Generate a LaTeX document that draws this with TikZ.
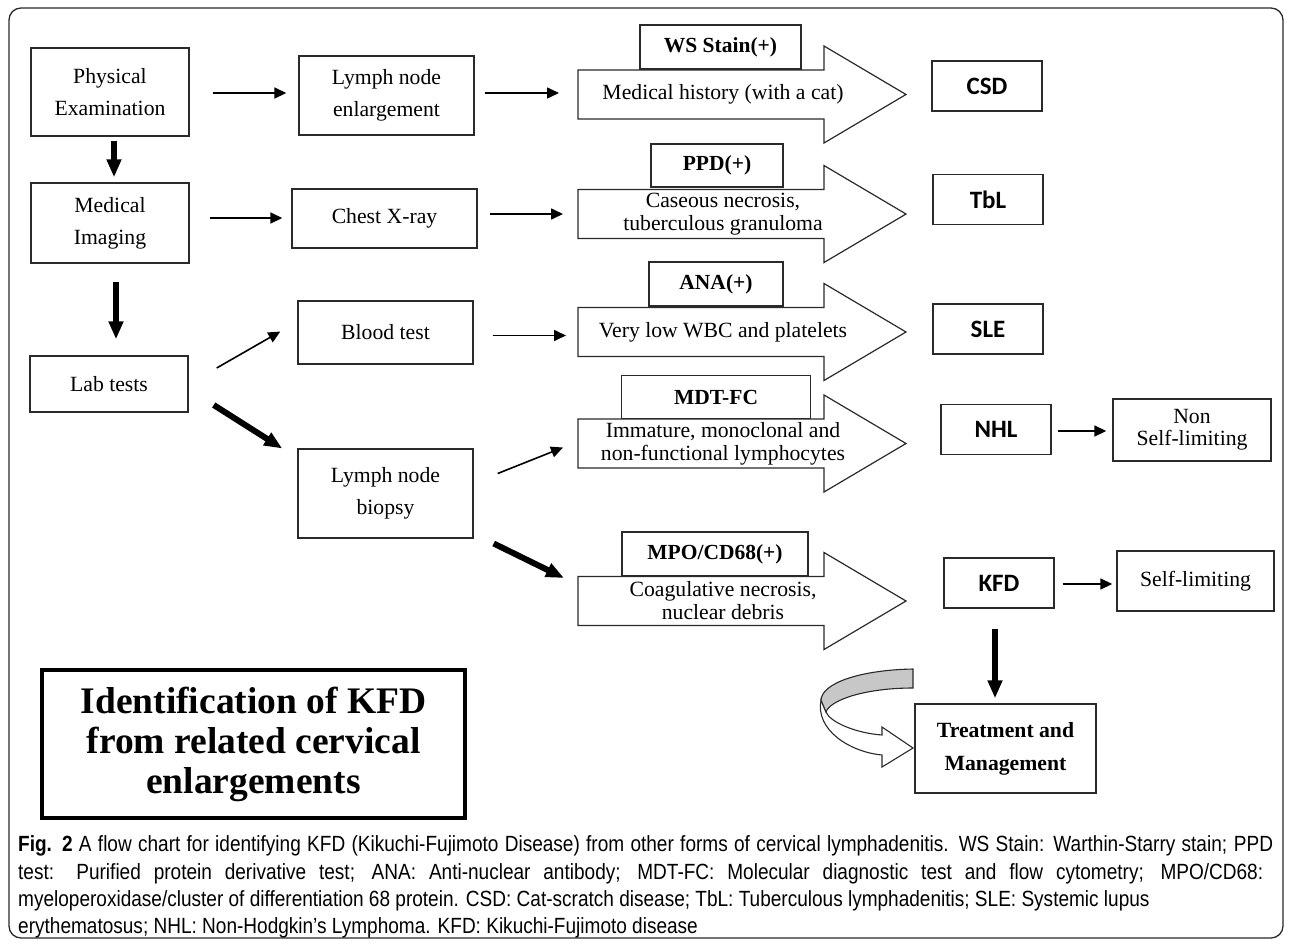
\documentclass[tikz,border=0pt]{standalone}
\usepackage{fontspec}
\setmainfont{Liberation Serif}
\newfontfamily\calib{Carlito}
\newfontfamily\capfont[FakeStretch=0.865]{Liberation Sans}
\usetikzlibrary{arrows.meta,calc}
\definecolor{ln}{HTML}{2a2a2a}
\newcommand\blockarrow[3]{%
  \draw[barrow] (578,#2-24.5) -- (824,#2-24.5) -- (824,#2-48.5) -- (906,#2) -- (824,#2+48.5) -- (824,#2+24.5) -- (578,#2+24.5) -- cycle;
  \coordinate (#1) at (578,#2);
  \coordinate (#1tip) at (906,#2);
  \node[atext] (#1t) at (723,#2) {#3};}
\begin{document}
\begin{tikzpicture}[x=1pt,y=-1pt,
  box/.style={draw=ln, line width=1.4pt, fill=white, inner sep=0pt, align=center, font=\fontsize{21.7}{32}\selectfont},
  lbox/.style={draw=ln, line width=1.4pt, fill=white, inner sep=0pt, align=center, font=\bfseries\fontsize{21.5}{24}\selectfont},
  dbox/.style={draw=ln, line width=1.4pt, fill=white, inner sep=0pt, align=center, minimum width=110, minimum height=50, font=\calib\bfseries\fontsize{25}{27}\selectfont},
  barrow/.style={draw=ln, line width=1.2pt, fill=white, line join=miter},
  atext/.style={align=center, inner sep=0pt, font=\fontsize{21.7}{23}\selectfont},
  tharr/.style={draw=black, line width=1.6pt, -{Triangle[length=12pt,width=11pt]}},
  tkarr/.style={draw=black, line width=6pt, -{Triangle[length=18pt,width=14pt]}},
  captext/.style={anchor=base west, inner sep=0pt, font=\capfont\fontsize{22}{22}\selectfont}
]
\useasboundingbox (0,0) rectangle (1292,945);
\draw[ln, line width=1.3pt, rounded corners=12pt] (9,8) rectangle (1283,938);

% left column
\node[box, minimum width=158, minimum height=88] (pe) at (110,92) {Physical\\Examination};
\node[box, minimum width=158, minimum height=80] (mi) at (110,223) {Medical\\Imaging};
\node[box, minimum width=158, minimum height=56] (lab) at (109,384) {Lab tests};

% middle column
\node[box, minimum width=175, minimum height=79] (lne) at (386.5,95.5) {Lymph node\\enlargement};
\node[box, minimum width=185, minimum height=59] (cxr) at (384.5,218.5) {Chest X-ray};
\node[box, minimum width=175, minimum height=63] (bt) at (385.5,332.5) {Blood test};
\node[box, minimum width=175, minimum height=89] (bio) at (385.5,493.5) {Lymph node\\biopsy};

% block arrows
\blockarrow{a1}{94.5}{Medical history (with a cat)}
\blockarrow{a2}{214}{Caseous necrosis,\\tuberculous granuloma}
\blockarrow{a3}{332}{Very low WBC and platelets}
\blockarrow{a4}{443.5}{Immature, monoclonal and\\non-functional lymphocytes}
\blockarrow{a5}{601}{Coagulative necrosis,\\nuclear debris}

% label boxes
\node[lbox, minimum width=161, minimum height=44] (ws) at (720.5,47) {WS Stain(+)};
\node[lbox, minimum width=132, minimum height=43] (ppd) at (717,165.5) {PPD(+)};
\node[lbox, minimum width=134, minimum height=44] (ana) at (716,284) {ANA(+)};
\node[lbox, minimum width=189, minimum height=43] (mdt) at (716,397) {MDT-FC};
\node[lbox, minimum width=186, minimum height=44] (mpo) at (715,554) {MPO/CD68(+)};

% diagnoses
\node[dbox] (csd) at (987,86) {CSD};
\node[dbox] (tbl) at (988,199.5) {TbL};
\node[dbox] (sle) at (988,329) {SLE};
\node[dbox] (nhl) at (996,429.5) {NHL};
\node[dbox] (kfd) at (999,583) {KFD};
\node[box, minimum width=158, minimum height=62, font=\fontsize{21.7}{22}\selectfont] (non) at (1192,430) {Non\\Self-limiting};
\node[box, minimum width=157, minimum height=60] (self) at (1195.5,581) {Self-limiting};
\node[box, minimum width=181, minimum height=89, font=\bfseries\fontsize{21.7}{33}\selectfont] (tm) at (1005.5,748.5) {Treatment and\\Management};

% title
\node[draw=black, line width=3.5pt, minimum width=423, minimum height=148, inner sep=0pt, align=center, font=\bfseries\fontsize{37.5}{40}\selectfont] (title) at (253.5,744) {Identification of KFD\\from related cervical\\enlargements};

% connectors
\draw[tharr, shorten <=23pt, shorten >=12pt] ($(pe.east)+(0,1)$) -- ($(pe.east -| lne.west)+(0,1)$);
\draw[tharr, shorten <=10pt, shorten >=19pt] ($(lne.east)+(0,-2.5)$) -- ($(lne.east -| a1)+(0,-2.5)$);
\draw[tharr, shorten <=20pt, shorten >=9pt] ($(mi.east)+(0,-5)$) -- ($(mi.east -| cxr.west)+(0,-5)$);
\draw[tharr, shorten <=12pt, shorten >=15pt] ($(cxr.east)+(0,-4.5)$) -- ($(cxr.east -| a2)+(0,-4.5)$);
\draw[tharr] ($(lab.east)+(28,-16)$) -- ($(bt.west)+(-17,-1)$);
\draw[tharr, shorten <=19pt, shorten >=12pt] ($(bt.east)+(0,3)$) -- ($(bt.east -| a3)+(0,3)$);
\draw[tharr] ($(bio.east)+(24,-20)$) -- ($(a4)+(-15,4)$);
\draw[tharr, shorten <=6pt, shorten >=6pt] ($(nhl.east)+(0,1.5)$) -- ($(nhl.east -| non.west)+(0,1.5)$);
\draw[tharr, shorten <=8pt, shorten >=4pt] ($(kfd.east)+(0,1)$) -- ($(kfd.east -| self.west)+(0,1)$);

\draw[tkarr, shorten <=4pt, shorten >=5pt] ($(pe.south)+(4,0)$) -- ($(mi.north)+(4,0)$);
\draw[tkarr, shorten <=18pt, shorten >=16pt] ($(mi.south)+(6,0)$) -- ($(lab.north)+(7,0)$);
\draw[tkarr] ($(lab.east)+(25,21)$) -- ($(bio.west)+(-15,-45)$);
\draw[tkarr] ($(bio.east)+(20,50)$) -- ($(a5)+(-14,-23)$);
\draw[tkarr, shorten <=20pt, shorten >=5pt] ($(kfd.south)+(-4,0)$) -- ($(tm.north)+(-10.5,0)$);

% curved arrow
\fill[white, draw=ln, line width=1.1pt] (821,700) .. controls (815,730) and (850,752) .. (882,755) -- (882,767) -- (913,748) -- (882,727) -- (882,735) .. controls (855,733) and (830,722) .. (826,712) -- cycle;
\fill[black!22, draw=ln, line width=1.1pt] (913,669) .. controls (860,670) and (822,683) .. (821,700) -- (826,712) .. controls (830,700) and (865,688) .. (913,688) -- cycle;

% caption
\node[captext] (cap1) at (18,851) {\makebox[1255pt][s]{{\bfseries Fig. 2} A flow chart for identifying KFD (Kikuchi-Fujimoto Disease) from other forms of cervical lymphadenitis. WS Stain: Warthin-Starry stain; PPD}};
\node[captext] (cap2) at (18,879) {\makebox[1245pt][s]{test: Purified protein derivative test; ANA: Anti-nuclear antibody; MDT-FC: Molecular diagnostic test and flow cytometry; MPO/CD68:}};
\node[captext] (cap3) at (18,906) {myeloperoxidase/cluster of differentiation 68 protein. CSD: Cat-scratch disease; TbL: Tuberculous lymphadenitis; SLE: Systemic lupus};
\node[captext] (cap4) at (18,933) {erythematosus; NHL: Non-Hodgkin’s Lymphoma. KFD: Kikuchi-Fujimoto disease};
\end{tikzpicture}
\end{document}
